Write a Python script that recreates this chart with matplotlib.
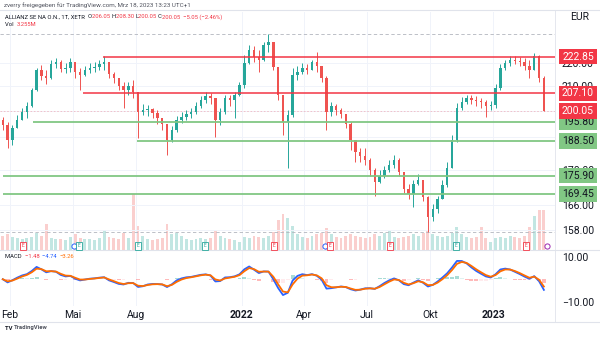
import numpy as np
import pandas as pd
import matplotlib
matplotlib.use("Agg")
import matplotlib.pyplot as plt
from matplotlib.ticker import NullLocator
from matplotlib.transforms import blended_transform_factory

plt.rcParams["font.family"] = ["Roboto", "DejaVu Sans"]

# Weekly candles, week 0 = week of 1 Feb 2021, last week = 13-17 Mar 2023
weeks = np.arange(-2, 111)
first_open = 196.5
closes = [194.5, 188.8, 193.4, 196.5, 199.6, 202.0, 208.6, 217.0, 214.5, 213.6,
          219.6, 220.5, 217.5, 217.9, 220.5, 216.2, 214.9, 217.0, 217.9, 218.3,
          219.6, 220.5, 215.3, 213.6, 210.2, 208.6, 210.2, 207.7, 199.6, 200.4,
          200.9, 199.2, 197.2, 194.9, 188.8, 192.6, 196.5, 197.6, 198.8, 199.6,
          202.0, 204.4, 206.1, 205.3, 196.5, 199.6, 205.3, 204.4, 206.5, 210.6,
          220.1, 225.8, 222.7, 221.4, 228.1, 229.5, 218.3, 206.5, 195.7, 198.4,
          214.9, 216.2, 217.9, 217.0, 220.5, 218.8, 213.6, 199.6, 202.0, 200.4,
          198.8, 194.9, 188.8, 184.4, 183.0, 181.5, 178.0, 173.8, 175.9, 178.0,
          179.8, 181.5, 177.3, 171.1, 169.5, 172.9, 174.5, 168.5, 161.9, 164.5,
          167.8, 172.5, 178.7, 188.8, 201.2, 203.6, 205.3, 204.4, 204.0, 203.6,
          202.0, 202.4, 209.4, 217.9, 220.1, 221.4, 221.0, 220.5, 218.8, 217.0,
          223.2, 213.6, 200.05]
highs = [197.6, 195.7, 194.5, 198.4, 201.2, 203.6, 209.4, 217.9, 219.2, 217.0,
         221.4, 222.3, 221.4, 220.1, 222.3, 220.5, 217.9, 218.8, 220.1, 220.5,
         221.4, 223.2, 220.5, 216.2, 213.6, 211.9, 211.9, 212.8, 206.1, 202.8,
         202.4, 201.2, 200.4, 197.2, 194.1, 194.1, 198.0, 199.6, 200.4, 201.2,
         203.6, 206.1, 207.7, 207.3, 205.3, 201.2, 206.5, 206.5, 207.7, 211.9,
         223.6, 228.1, 227.6, 225.8, 229.5, 233.1, 228.1, 217.9, 206.5, 200.4,
         217.9, 218.8, 220.1, 219.6, 221.4, 224.9, 217.9, 214.5, 203.6, 202.8,
         201.2, 198.4, 195.7, 188.1, 185.9, 185.9, 182.3, 178.7, 178.0, 179.4,
         181.5, 183.3, 182.3, 177.3, 172.9, 174.5, 176.3, 174.5, 168.8, 166.2,
         168.8, 174.5, 180.8, 190.7, 203.2, 205.7, 206.5, 206.5, 206.1, 205.3,
         204.4, 204.0, 211.1, 219.6, 221.4, 223.2, 223.2, 222.7, 222.3, 221.4,
         224.5, 223.6, 214.5]
lows = [192.6, 185.9, 187.0, 193.4, 196.5, 197.2, 201.5, 208.0, 212.8, 211.1,
        213.0, 217.9, 216.2, 215.7, 216.2, 213.6, 208.6, 214.5, 215.7, 216.2,
        217.0, 217.0, 213.6, 211.5, 208.6, 201.2, 206.5, 205.3, 189.6, 198.4,
        198.0, 197.2, 194.9, 192.6, 183.3, 188.1, 191.8, 195.3, 196.5, 197.2,
        198.8, 201.2, 203.2, 202.8, 189.9, 194.5, 199.0, 202.0, 197.2, 206.0,
        209.4, 219.8, 220.5, 216.2, 220.9, 224.9, 217.0, 204.4, 190.7, 178.7,
        197.8, 212.8, 215.3, 215.3, 217.0, 216.2, 211.9, 192.6, 198.0, 198.4,
        197.2, 193.4, 185.2, 180.8, 180.8, 179.8, 175.9, 168.8, 173.2, 175.2,
        177.3, 178.7, 175.9, 169.8, 167.8, 165.2, 172.5, 167.1, 157.2, 160.6,
        163.2, 167.8, 171.8, 181.5, 188.1, 200.4, 202.8, 202.8, 202.0, 201.2,
        197.6, 200.4, 201.2, 208.6, 217.0, 218.8, 219.6, 218.8, 217.0, 213.6,
        217.0, 211.9, 200.05]
# volume in million shares
volumes = [1.2, 1.3, 1.1, 1.0, 0.9, 1.0, 1.1, 1.4, 1.2, 2.2,
           1.0, 0.9, 0.9, 0.8, 1.1, 1.3, 1.0, 0.9, 0.9, 0.8,
           1.0, 1.7, 1.1, 1.0, 0.9, 1.4, 1.0, 4.7, 2.0, 1.2,
           0.9, 0.8, 0.9, 1.0, 2.2, 1.3, 1.4, 1.2, 0.9, 0.8,
           0.9, 1.0, 0.9, 1.0, 1.6, 1.2, 1.0, 0.9, 0.8, 0.7,
           1.1, 1.0, 1.2, 1.1, 1.0, 1.2, 1.5, 2.5, 3.0, 2.7,
           2.0, 1.3, 1.1, 1.0, 1.2, 1.3, 1.4, 1.8, 1.3, 1.1,
           1.0, 1.2, 1.3, 1.2, 1.1, 1.0, 1.1, 1.3, 1.2, 1.4,
           1.6, 1.1, 1.0, 1.1, 1.2, 1.3, 1.2, 1.4, 1.6, 1.3,
           1.2, 1.1, 1.2, 1.4, 1.9, 1.3, 1.1, 1.0, 1.1, 1.9,
           1.0, 0.7, 1.0, 1.1, 1.0, 1.2, 1.1, 1.0, 1.2, 1.9,
           2.8, 3.3, 3.3]

# drawn horizontal levels: price, start week, colour
levels = [222.85, 207.10, 195.80, 188.50, 175.90, 169.45]
level_start = [19.25, 15.1, 4.8, 26.3, -1.4, -1.4]
level_kind = ["res", "res", "sup", "sup", "sup", "sup"]

# earnings / dividend markers (week, kind)
events = [(2.7, "E-"), (13.3, "D"), (14.3, "E+"), (26.5, "E+"), (40.4, "E+"),
          (54.7, "E-"), (65.2, "D"), (66.3, "E-"), (78.7, "E-"), (92.3, "E+"),
          (106.8, "E-"), (111.2, "N")]

month_pos = [0, 13, 26, 48, 60.8, 73.8, 87, 100]
month_lbl = ["Feb", "Mai", "Aug", "2022", "Apr", "Jul", "Okt", "2023"]
price_ticks = [158, 166, 178, 190, 210, 220]

UP, DOWN = "#26a69a", "#ef5350"
RED, GREEN = "#f23645", "#81c784"
GRID = "#f0f3fa"
TXT = "#131722"

W, H = 600, 337
fx = lambda px: px / W
fy = lambda py: 1 - py / H

df = pd.DataFrame({"week": weeks, "close": closes, "high": highs,
                   "low": lows, "vol": volumes})
df["open"] = df["close"].shift(1).fillna(first_open)
df["x"] = df["week"] + 0.5
df["up"] = df["close"] >= df["open"]

fig = plt.figure(figsize=(6, 3.37), dpi=100)
fig.patch.set_facecolor("white")

ax = fig.add_axes([0, fy(250), fx(555), (250 - 12) / H])
axv = ax.twinx()
axm = fig.add_axes([0, fy(306), fx(555), (306 - 250) / H], sharex=ax)

ax.set_zorder(2)
ax.patch.set_visible(False)
axv.set_zorder(1)

xmin, xmax = -2.07, 112.8
ax.set_xlim(xmin, xmax)
ax.set_yscale("log")
ax.set_ylim(151.7, 243.5)

for a in (ax, axv, axm):
    for s in a.spines.values():
        s.set_visible(False)

# grid
for m in month_pos:
    axv.axvline(m, color=GRID, lw=0.7, zorder=0)
    axm.axvline(m, color=GRID, lw=0.7, zorder=0)
for p in price_ticks + [200]:
    ax.axhline(p, color=GRID, lw=0.7, zorder=0)

# volume
axv.set_ylim(0, 19.8)
axv.bar(df["x"], df["vol"], width=0.6,
        color=np.where(df["up"], UP, DOWN), alpha=0.28, linewidth=0)
axv.set_yticks([])
axv.tick_params(axis="x", length=0, labelbottom=False)

# candles
cols = np.where(df["up"], UP, DOWN)
wick_hi = np.maximum(df["high"], np.maximum(df["open"], df["close"]))
wick_lo = np.minimum(df["low"], np.minimum(df["open"], df["close"]))
ax.vlines(df["x"], wick_lo, wick_hi, colors=cols, lw=0.7, zorder=3)
body_lo = np.minimum(df["open"], df["close"])
body_h = np.maximum(np.abs(df["close"] - df["open"]), 0.3)
ax.bar(df["x"], body_h, bottom=body_lo, width=0.5, color=cols,
       linewidth=0, zorder=4)

# high / low and last price lines
ax.axhline(max(highs), color="#b2b5be", lw=0.6, ls=(0, (4, 3)), zorder=1)
ax.axhline(min(lows), color="#b2b5be", lw=0.6, ls=(0, (4, 3)), zorder=1)
ax.axhline(closes[-1], color=RED, alpha=0.3, lw=0.6, ls=(0, (2, 2)), zorder=1)

# support / resistance levels
for lv, st, kind in zip(levels, level_start, level_kind):
    c = RED if kind == "res" else GREEN
    ax.plot([st, xmax], [lv, lv], color=c, lw=1.1 if kind == "res" else 1.3,
            zorder=5, solid_capstyle="butt")

# event markers along the bottom of the price pane
ev_tr = blended_transform_factory(ax.transData, ax.transAxes)
ev_col = {"E-": RED, "E+": UP, "D": "#2962ff", "N": "#9c27b0"}
for wk, kind in events:
    if kind in ("E-", "E+"):
        ax.text(wk, 0.018, "E", transform=ev_tr, fontsize=3.5, color=ev_col[kind],
                ha="center", va="center", zorder=6,
                bbox=dict(boxstyle="square,pad=0.35", fc="white",
                          ec=ev_col[kind], lw=0.6))
    else:
        ax.scatter([wk], [0.018], transform=ev_tr, s=14, facecolor="white",
                   edgecolor=ev_col[kind], lw=0.7, zorder=6)

# price scale
ax.yaxis.tick_right()
ax.yaxis.set_minor_locator(NullLocator())
ax.yaxis.set_minor_formatter(plt.NullFormatter())
ax.set_yticks(price_ticks)
ax.set_yticklabels([f"{p:.2f}" for p in price_ticks])
ax.tick_params(axis="y", length=0, pad=5, labelsize=7.5, labelcolor=TXT,
               right=False, labelright=True, left=False, labelleft=False)
ax.tick_params(axis="x", length=0, labelbottom=False)

lab_tr = blended_transform_factory(ax.transAxes, ax.transData)
badge_x = 578 / 555
for lv, kind in zip(levels, level_kind):
    if kind == "res":
        fc, tc = RED, "white"
    else:
        fc, tc = GREEN, TXT
    ax.text(badge_x, lv, f"{lv:.2f}", transform=lab_tr, ha="center",
            va="center", fontsize=7.5, color=tc, clip_on=False, zorder=10,
            bbox=dict(boxstyle="square,pad=0.28", fc=fc, ec="none"))
ax.text(badge_x, closes[-1], f"{closes[-1]:.2f}", transform=lab_tr,
        ha="center", va="center", fontsize=7.5, color="white", clip_on=False,
        zorder=10, bbox=dict(boxstyle="square,pad=0.28", fc=RED, ec="none"))

# MACD (daily 12/26/9 expressed as weekly smoothing)
a_fast = 1 - (1 - 2 / 13) ** 5
a_slow = 1 - (1 - 2 / 27) ** 5
a_sig = 1 - (1 - 2 / 10) ** 5
close_s = df["close"]
macd = close_s.ewm(alpha=a_fast, adjust=False).mean() - \
    close_s.ewm(alpha=a_slow, adjust=False).mean()
signal = macd.ewm(alpha=a_sig, adjust=False).mean()
hist = macd - signal
prev = hist.shift(1).fillna(0)
hcol = np.where(hist >= 0, np.where(hist >= prev, "#26a69a", "#b2dfdb"),
                np.where(hist <= prev, "#ff5252", "#ffcdd2"))
axm.bar(df["x"], hist, width=0.8, color=hcol, alpha=0.4, linewidth=0)
axm.plot(df["x"], macd, color="#2962ff", lw=1.3)
axm.plot(df["x"], signal, color="#ff6d00", lw=1.3)
axm.set_ylim(-11.9, 12.98)
axm.yaxis.tick_right()
axm.set_yticks([-10, 10])
axm.set_yticklabels(["\u221210.00", "10.00"])
axm.tick_params(axis="y", length=0, pad=5, labelsize=7.5, labelcolor=TXT)
axm.set_xticks(month_pos)
axm.set_xticklabels(month_lbl)
axm.tick_params(axis="x", length=0, pad=3, labelsize=7.5, labelcolor=TXT)
for t in axm.get_xticklabels():
    if t.get_text().isdigit():
        t.set_fontweight("bold")

# frame lines
for py in (10, 250, 322):
    fig.add_artist(plt.Line2D([0, 1], [fy(py), fy(py)], color="#e0e3eb", lw=0.8))
fig.add_artist(plt.Line2D([fx(555), fx(555)], [fy(322), fy(10)],
                          color="#e0e3eb", lw=0.6))

# header and legends
renderer = fig.canvas.get_renderer()


def text_runs(x_px, y_px, runs, size, weight="normal"):
    x = x_px
    for s, c in runs:
        t = fig.text(fx(x), fy(y_px), s, color=c, fontsize=size, ha="left",
                     va="center", fontweight=weight)
        x += t.get_window_extent(renderer=renderer).width


fig.text(fx(4), fy(5), "zverry freigegeben f\u00fcr TradingView.com, Mrz 18, 2023 13:23 UTC+1",
         fontsize=4.5, color="#50535e", va="center")
text_runs(5, 17, [("ALLIANZ SE NA O.N., 1T, XETR  ", TXT), ("O", TXT),
                  ("206.05 ", RED), ("H", TXT), ("208.30 ", RED), ("L", TXT),
                  ("200.05 ", RED), ("C", TXT), ("200.05  \u22125.05 (\u22122.46%)", RED)], 4.2)
text_runs(5, 24, [("Vol  ", TXT), ("3.255M", RED)], 4.2)
text_runs(5, 257, [("MACD  ", TXT), (f"{hist.iloc[-1]:.2f}  ".replace("-", "\u2212"), RED),
                   (f"{macd.iloc[-1]:.2f}  ".replace("-", "\u2212"), "#2962ff"),
                   (f"{signal.iloc[-1]:.2f}".replace("-", "\u2212"), "#ff6d00")], 4.2)
fig.text(fx(570), fy(17), "EUR", fontsize=7.5, color=TXT, va="center")
text_runs(5, 328, [("TV ", TXT), ("TradingView", "#50535e")], 4.2, weight="bold")

fig.savefig("out.png", dpi=100, facecolor="white")
